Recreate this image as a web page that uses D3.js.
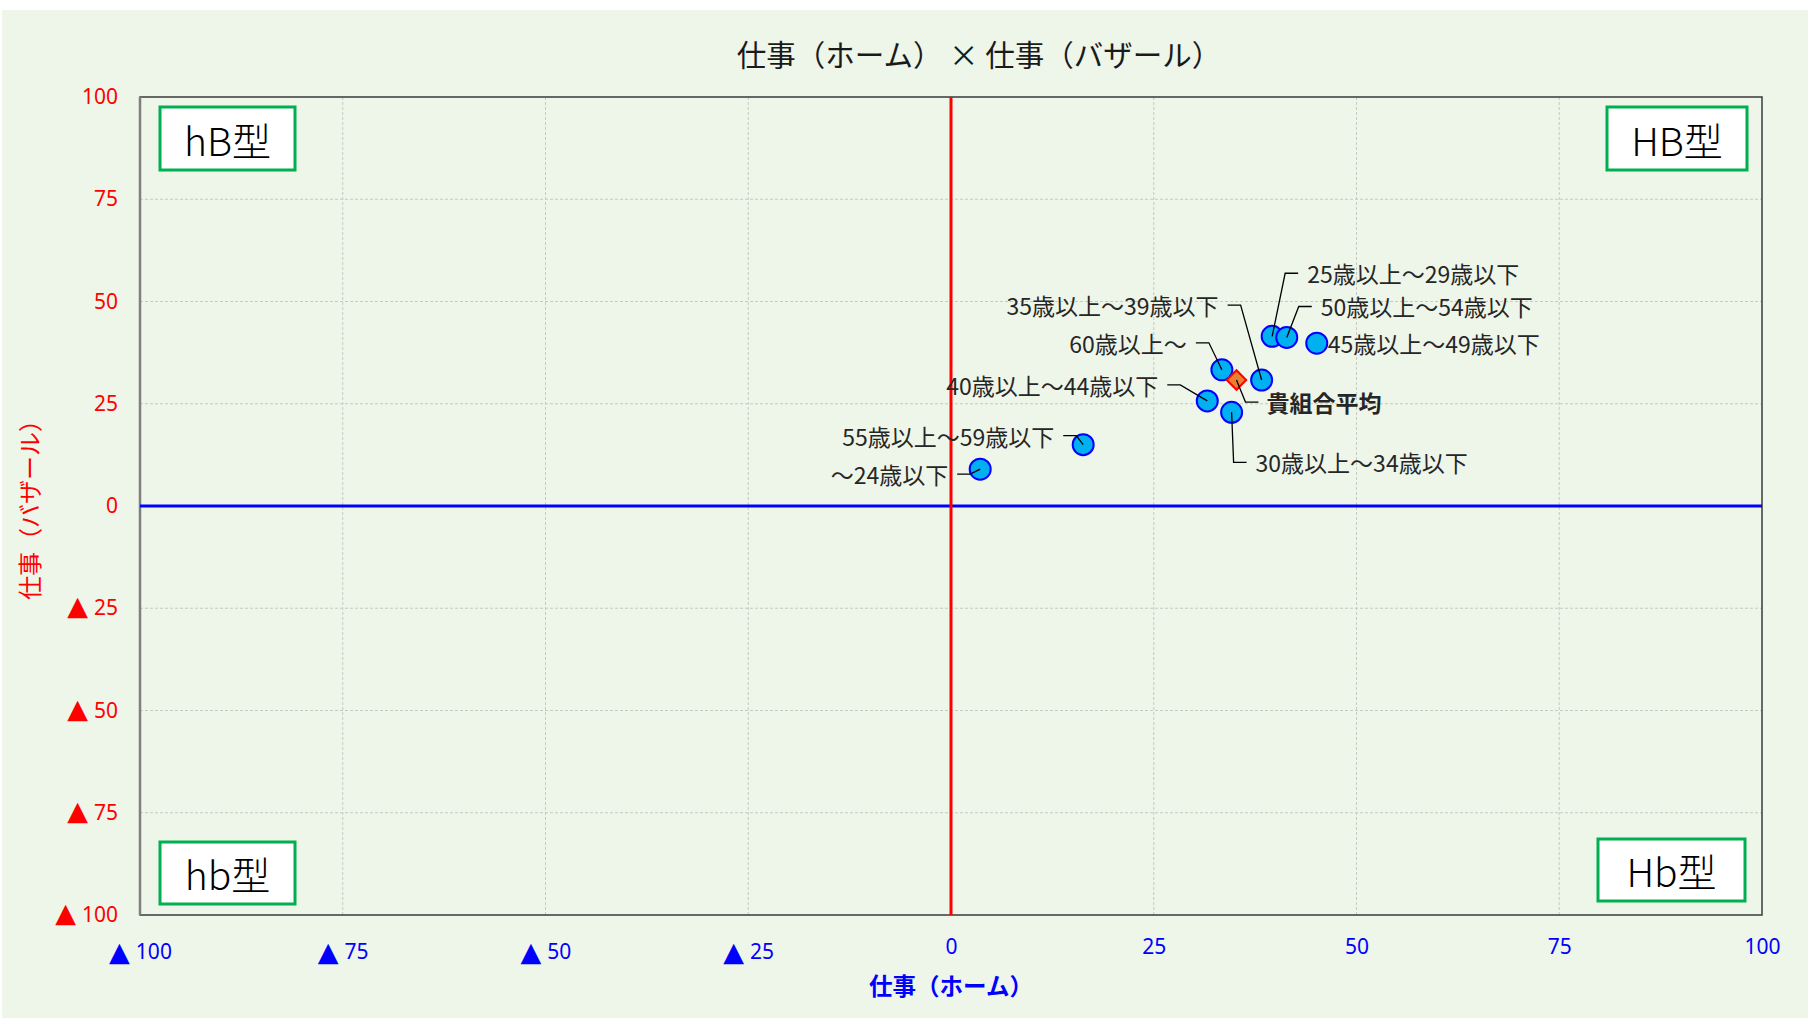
<!DOCTYPE html>
<html>
<head>
<meta charset="utf-8">
<script src="https://cdn.jsdelivr.net/npm/d3@7"></script>
<style>
    body { margin: 0; background: #fff; }
    #chart { width: 1814px; height: 1020px; }
    .lbl { font-family: "Noto Sans CJK JP", sans-serif; font-size: 23px; fill: #262626; }
</style>
</head>
<body>
<div id="chart"></div>
<script>
// data
const groups = ["〜24歳以下", "25歳以上〜29歳以下", "30歳以上〜34歳以下", "35歳以上〜39歳以下",
    "40歳以上〜44歳以下", "45歳以上〜49歳以下", "50歳以上〜54歳以下", "55歳以上〜59歳以下", "60歳以上〜"];
const homeScores   = [3.6, 39.6, 34.6, 38.3, 31.6, 45.1, 41.4, 16.3, 33.4];
const bazaarScores = [9.0, 41.5, 22.9, 30.8, 25.7, 39.8, 41.2, 15.0, 33.3];

const averageName = "貴組合平均";
const averageHome = 35.2;
const averageBazaar = 30.8;

const tickValues = [-100, -75, -50, -25, 0, 25, 50, 75, 100];
const quadrantNames = ["hB型", "HB型", "hb型", "Hb型"];

const chartTitle = "仕事（ホーム） × 仕事（バザール）";
const xTitle = "仕事（ホーム）";
const yTitle = "仕事（バザール）";

// label placement (px from the point to the leader elbow, and which side the text sits)
const labelLayout = [
    {dx: -10, dy: 5, side: "left"},
    {dx: 13, dy: -63, side: "right"},
    {dx: 2, dy: 50, side: "right"},
    {dx: -21, dy: -75, side: "left"},
    {dx: -27, dy: -16, side: "left"},
    {dx: 0, dy: 0, side: "none"},
    {dx: 12, dy: -31, side: "right"},
    {dx: -7, dy: -9, side: "left"},
    {dx: -13, dy: -27, side: "left"}
];

const width = 1814, height = 1020;
const margin = {top: 97, left: 140, right: 52, bottom: 105};

const svg = d3.select("#chart").append("svg")
    .attr("width", width)
    .attr("height", height);

// background
svg.append("rect")
    .attr("x", 2).attr("y", 10)
    .attr("width", 1806).attr("height", 1008)
    .attr("fill", "#eef5e9");

const x = d3.scaleLinear().domain([-100, 100]).range([margin.left, width - margin.right]);
const y = d3.scaleLinear().domain([-100, 100]).range([height - margin.bottom, margin.top]);

// grid
const inner = tickValues.filter(d => Math.abs(d) != 100 && d != 0);
svg.append("g").selectAll("line")
    .data(inner)
    .enter().append("line")
        .attr("x1", d => x(d)).attr("x2", d => x(d))
        .attr("y1", y(100)).attr("y2", y(-100))
        .attr("stroke", "#c6c9c4").attr("stroke-dasharray", "3,2").attr("stroke-width", 1);
svg.append("g").selectAll("line")
    .data(inner)
    .enter().append("line")
        .attr("y1", d => y(d)).attr("y2", d => y(d))
        .attr("x1", x(-100)).attr("x2", x(100))
        .attr("stroke", "#c6c9c4").attr("stroke-dasharray", "3,2").attr("stroke-width", 1);

// plot border
svg.append("rect")
    .attr("x", x(-100)).attr("y", y(100))
    .attr("width", x(100) - x(-100)).attr("height", y(-100) - y(100))
    .attr("fill", "none").attr("stroke", "#3a3a3a").attr("stroke-width", 1.5);
svg.append("line")
    .attr("x1", x(-100)).attr("x2", x(-100)).attr("y1", y(100)).attr("y2", y(-100))
    .attr("stroke", "#7f7f7f").attr("stroke-width", 2.5);

// zero lines
svg.append("line")
    .attr("x1", x(-100)).attr("x2", x(100)).attr("y1", y(0)).attr("y2", y(0))
    .attr("stroke", "#0000ff").attr("stroke-width", 3);
svg.append("line")
    .attr("x1", x(0)).attr("x2", x(0)).attr("y1", y(100)).attr("y2", y(-100))
    .attr("stroke", "#ff0000").attr("stroke-width", 3);

// negative ticks get a triangle in front
function triangleLabel(sel) {
    sel.text(null).each(function(d) {
        const t = d3.select(this);
        if (d < 0) {
            t.append("tspan").style("font-family", "'DejaVu Sans'").style("font-size", "27px").text("▲");
            t.append("tspan").attr("dx", 6).text(-d);
        } else {
            t.text(d);
        }
    });
}

// axes
const yAxis = svg.append("g")
    .attr("transform", `translate(${margin.left - 22},0)`)
    .call(d3.axisLeft(y).tickValues(tickValues).tickSize(0).tickPadding(0));
yAxis.select(".domain").remove();
yAxis.selectAll("text")
    .attr("fill", "#ff0000")
    .style("font-family", "'Noto Sans', sans-serif")
    .style("font-size", "21px")
    .call(triangleLabel);

const xAxis = svg.append("g")
    .attr("transform", `translate(0,${height - margin.bottom})`)
    .call(d3.axisBottom(x).tickValues(tickValues).tickSize(0).tickPadding(0));
xAxis.select(".domain").remove();
xAxis.selectAll("text")
    .attr("fill", "#0000ff")
    .attr("dy", null)
    .attr("dominant-baseline", "central")
    .attr("y", d => d < 0 ? 36 : 31)
    .style("font-family", d => d < 0 ? "'Noto Sans', sans-serif" : "'Liberation Sans Narrow', 'Noto Sans', sans-serif")
    .style("font-size", "21px")
    .call(triangleLabel);

// titles
svg.append("text")
    .attr("x", 979).attr("y", 53)
    .attr("text-anchor", "middle").attr("dominant-baseline", "central")
    .style("font-family", "'Noto Sans CJK JP', sans-serif").style("font-size", "29.5px")
    .attr("fill", "#1a1a1a")
    .text(chartTitle);

svg.append("text")
    .attr("x", x(0)).attr("y", 985)
    .attr("text-anchor", "middle").attr("dominant-baseline", "central")
    .style("font-family", "'Noto Sans CJK JP', sans-serif").style("font-size", "23.5px").style("font-weight", "bold")
    .attr("fill", "#0000ff")
    .text(xTitle);

svg.append("text")
    .attr("transform", `translate(28,${y(0) - 2}) rotate(-90)`)
    .attr("text-anchor", "middle").attr("dominant-baseline", "central")
    .style("font-family", "'Noto Sans CJK JP', sans-serif").style("font-size", "24px")
    .attr("fill", "#ff0000")
    .text(yTitle);

// quadrant boxes
const boxes = [
    {x: x(-100) + 20, y: y(100) + 10, w: 135, h: 63},
    {x: x(100) - 15 - 140, y: y(100) + 10, w: 140, h: 63},
    {x: x(-100) + 20, y: y(-100) - 73, w: 135, h: 62},
    {x: x(100) - 17 - 147, y: y(-100) - 76, w: 147, h: 62}
];
const qb = svg.append("g").selectAll("g")
    .data(quadrantNames)
    .enter().append("g")
        .attr("transform", (d, i) => `translate(${boxes[i].x},${boxes[i].y})`);
qb.append("rect")
    .attr("width", (d, i) => boxes[i].w).attr("height", (d, i) => boxes[i].h)
    .attr("fill", "#fff").attr("stroke", "#00b050").attr("stroke-width", 3);
qb.append("text")
    .attr("x", (d, i) => boxes[i].w / 2).attr("y", (d, i) => boxes[i].h / 2)
    .attr("text-anchor", "middle").attr("dominant-baseline", "central")
    .style("font-family", "'Noto Sans CJK JP', sans-serif").style("font-size", "39px").style("font-weight", 300)
    .attr("fill", "#000")
    .text(d => d);

// points
const points = groups.map((g, i) => ({name: g, home: homeScores[i], bazaar: bazaarScores[i], lay: labelLayout[i]}));

svg.append("g").selectAll("circle")
    .data(points)
    .enter().append("circle")
        .attr("cx", d => x(d.home))
        .attr("cy", d => y(d.bazaar))
        .attr("r", 10.5)
        .attr("fill", "#00b0f0")
        .attr("stroke", "#0000ff")
        .attr("stroke-width", 2);

svg.append("path")
    .attr("d", d3.symbol(d3.symbolSquare).size(190)())
    .attr("transform", `translate(${x(averageHome)},${y(averageBazaar)}) rotate(45)`)
    .attr("fill", "#ed7d31")
    .attr("stroke", "#ff0000")
    .attr("stroke-width", 2);

// leaders + labels
const leaders = svg.append("g");
const labels = svg.append("g");

points.forEach(function(d) {
    const px = x(d.home), py = y(d.bazaar);
    const ex = px + d.lay.dx, ey = py + d.lay.dy;
    if (d.lay.side == "none") {
        labels.append("text").attr("class", "lbl")
            .attr("x", px + 11).attr("y", py)
            .attr("dominant-baseline", "central")
            .text(d.name);
        return;
    }
    const dir = d.lay.side == "right" ? 1 : -1;
    leaders.append("polyline")
        .attr("points", `${px},${py} ${ex},${ey} ${ex + dir * 13},${ey}`)
        .attr("fill", "none").attr("stroke", "#000").attr("stroke-width", 1.3);
    labels.append("text").attr("class", "lbl")
        .attr("x", ex + dir * 22).attr("y", ey)
        .attr("text-anchor", dir > 0 ? "start" : "end")
        .attr("dominant-baseline", "central")
        .text(d.name);
});

// average label
const ax = x(averageHome), ay = y(averageBazaar);
leaders.append("polyline")
    .attr("points", `${ax},${ay} ${ax + 9},${ay + 22} ${ax + 22},${ay + 22}`)
    .attr("fill", "none").attr("stroke", "#000").attr("stroke-width", 1.3);
labels.append("text").attr("class", "lbl")
    .attr("x", ax + 30).attr("y", ay + 22)
    .attr("dominant-baseline", "central")
    .style("font-weight", "bold").attr("fill", "#000")
    .text(averageName);
</script>
</body>
</html>
